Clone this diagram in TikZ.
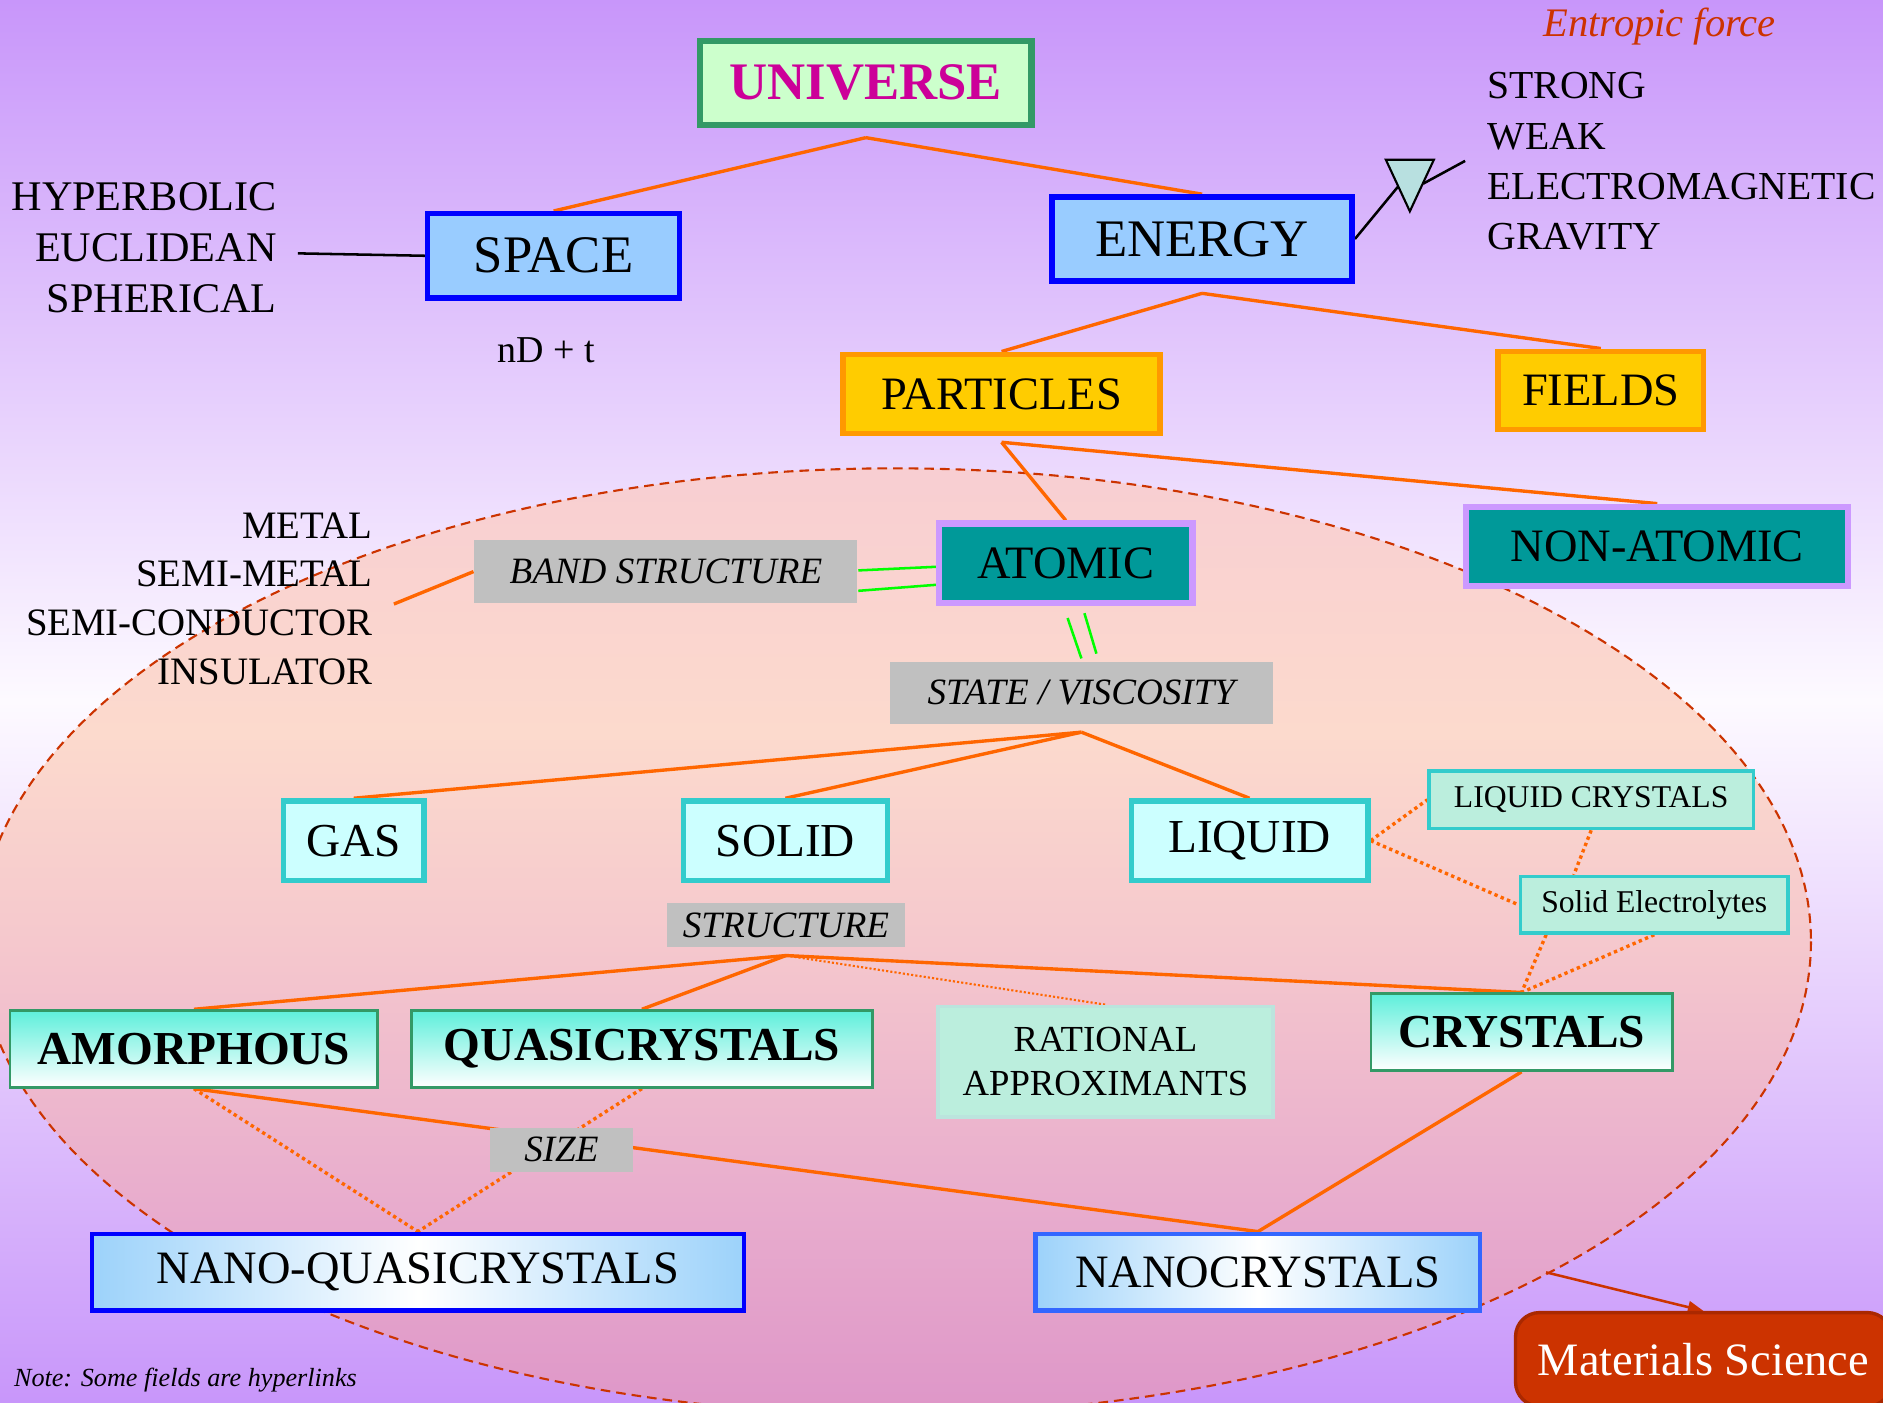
\documentclass[tikz,border=0pt]{standalone}
\usepackage{fontspec}
\setmainfont{Liberation Serif}
\usetikzlibrary{arrows.meta}

\definecolor{lilac}{RGB}{200,150,250}
\definecolor{paleback}{RGB}{253,250,255}
\definecolor{linkorange}{HTML}{FF6600}
\definecolor{rust}{HTML}{CC3300}
\definecolor{grassgreen}{HTML}{339966}
\definecolor{mint}{HTML}{BBEEDD}
\definecolor{sky}{HTML}{99CCFF}
\definecolor{turq}{RGB}{94,239,219}
\definecolor{pastelblue}{RGB}{156,210,250}

\pgfdeclareverticalshading{blob}{100bp}{color(0bp)=(rgb,255:red,222;green,150;blue,200);
  color(25bp)=(rgb,255:red,222;green,150;blue,200);
  color(36bp)=(rgb,255:red,232;green,172;blue,205);
  color(50bp)=(rgb,255:red,245;green,200;blue,205);
  color(61bp)=(rgb,255:red,252;green,218;blue,205);
  color(75bp)=(rgb,255:red,248;green,206;blue,210);
  color(100bp)=(rgb,255:red,248;green,206;blue,210)}

\pgfdeclarelayer{bg}
\pgfdeclarelayer{links}
\pgfsetlayers{bg,links,main}

\tikzset{
  topbox/.style={fill=green!20, draw=grassgreen, line width=1.5pt, inner sep=0pt,
    text={rgb,255:red,204;green,0;blue,153}, font=\bfseries\fontsize{12.5}{15}\selectfont},
  skybox/.style={fill=sky, draw=blue, line width=1.3pt, inner sep=0pt, font=\fontsize{12.5}{15}\selectfont},
  goldbox/.style={fill={rgb,255:red,255;green,204;blue,0}, draw={rgb,255:red,255;green,153;blue,0},
    line width=1.3pt, inner sep=0pt, font=\fontsize{11}{13}\selectfont},
  tealbox/.style={fill={rgb,255:red,0;green,153;blue,153}, draw={rgb,255:red,204;green,153;blue,255},
    line width=1.5pt, inner sep=0pt, font=\fontsize{11}{13}\selectfont},
  icebox/.style={fill={rgb,255:red,204;green,255;blue,255}, draw={rgb,255:red,51;green,204;blue,204},
    line width=1.3pt, inner sep=0pt, font=\fontsize{11.2}{13}\selectfont},
  mintbox/.style={fill=mint, draw={rgb,255:red,51;green,204;blue,204}, line width=0.8pt,
    inner sep=0pt, font=\fontsize{7.5}{9}\selectfont},
  greybox/.style={fill={rgb,255:red,192;green,192;blue,192}, inner sep=0pt, font=\itshape\fontsize{8.8}{10}\selectfont},
  phasebox/.style={top color=turq, bottom color=white, draw=grassgreen, line width=0.6pt,
    inner sep=0pt, font=\bfseries\fontsize{11.2}{13}\selectfont},
  nanobox/.style={left color=pastelblue, right color=pastelblue, middle color=white,
    line width=1.1pt, inner sep=0pt, font=\fontsize{11}{13}\selectfont},
  link/.style={draw=linkorange, line width=0.8pt},
  dotlink/.style={draw=linkorange, line width=0.8pt, dash pattern=on 0.8pt off 0.8pt},
  greenlink/.style={draw=green, line width=0.6pt},
}

\begin{document}
\begin{tikzpicture}[x=1mm,y=-1mm]

\useasboundingbox (0,0) rectangle (156.8,116.8);
\clip (0,0) rectangle (156.8,116.8);

%% backdrop
\begin{pgfonlayer}{bg}
\shade[top color=lilac, bottom color=lilac, middle color=paleback] (0,0) rectangle (156.8,116.8);
\shade[shading=blob] (74.5,78.4) ellipse [x radius=76.3, y radius=39.4];
\draw[rust, line width=0.5pt, dash pattern=on 0.8mm off 0.5mm] (74.5,78.4) ellipse [x radius=76.3, y radius=39.4];
\end{pgfonlayer}

%% boxes
\node[topbox, minimum width=27.6mm, minimum height=7mm] (universe) at (72.1,6.9) {UNIVERSE};
\node[skybox, minimum width=21mm, minimum height=7mm] (space) at (46.1,21.3) {SPACE};
\node[skybox, minimum width=25mm, minimum height=7mm] (energy) at (100.1,19.9) {ENERGY};
\node[goldbox, minimum width=26.4mm, minimum height=6.6mm] (particles) at (83.4,32.8) {PARTICLES};
\node[goldbox, minimum width=17.1mm, minimum height=6.5mm] (fields) at (133.3,32.5) {FIELDS};
\node[tealbox, minimum width=21.1mm, minimum height=6.6mm] (atomic) at (88.75,46.9) {ATOMIC};
\node[tealbox, minimum width=31.8mm, minimum height=6.6mm] (nonatomic) at (138,45.5) {NON-ATOMIC};
\node[greybox, minimum width=31.9mm, minimum height=5.2mm] (band) at (55.45,47.6) {BAND STRUCTURE};
\node[greybox, minimum width=31.9mm, minimum height=5.2mm] (state) at (90.05,57.7) {STATE / VISCOSITY};
\node[icebox, minimum width=11.7mm, minimum height=6.6mm] (gas) at (29.45,70) {GAS};
\node[icebox, minimum width=17mm, minimum height=6.6mm] (solid) at (65.4,70) {SOLID};
\node[icebox, minimum width=19.7mm, minimum height=6.6mm] (liquid) at (104.05,70) {LIQUID};
\node[mintbox, minimum width=27mm, minimum height=4.8mm] (lcryst) at (132.5,66.6) {LIQUID CRYSTALS};
\node[mintbox, minimum width=22.3mm, minimum height=4.7mm] (selectro) at (137.75,75.35) {Solid Electrolytes};
\node[greybox, minimum width=19.9mm, minimum height=3.7mm] (structure) at (65.45,77.05) {STRUCTURE};
\node[phasebox, minimum width=30.6mm, minimum height=6.4mm] (amorph) at (16.15,87.35) {AMORPHOUS};
\node[phasebox, minimum width=38.4mm, minimum height=6.4mm] (quasi) at (53.45,87.35) {QUASICRYSTALS};
\node[mintbox, draw={rgb,255:red,187;green,228;blue,221}, align=center, font=\fontsize{8.7}{10.5}\selectfont,
  minimum width=27.9mm, minimum height=9.2mm] (rational) at (92.05,88.4) {RATIONAL\\APPROXIMANTS};
\node[phasebox, minimum width=25.1mm, minimum height=6.4mm] (cryst) at (126.7,85.95) {CRYSTALS};
\node[greybox, minimum width=11.9mm, minimum height=3.7mm] (size) at (46.75,95.75) {SIZE};
\node[nanobox, draw=blue, minimum width=54.3mm, minimum height=6.4mm] (nanoq) at (34.8,105.95) {NANO-QUASICRYSTALS};
\node[nanobox, draw={rgb,255:red,51;green,102;blue,255}, minimum width=37mm, minimum height=6.4mm] (nanoc) at (104.75,105.95) {NANOCRYSTALS};
\node[fill=rust, draw={rgb,255:red,170;green,40;blue,0}, rounded corners=2mm, line width=0.8pt, inner sep=0pt,
  text=white, font=\fontsize{11}{13}\selectfont, minimum width=31.3mm, minimum height=7.8mm] (matsci) at (141.85,113.2) {Materials Science};

%% free texts
\node[anchor=east, align=right, inner sep=0pt, font=\fontsize{10}{12.1}\selectfont] (geometry) at (23.1,20.6) {HYPERBOLIC\\EUCLIDEAN\\SPHERICAL};
\node[inner sep=0pt, font=\fontsize{9}{11}\selectfont] (dims) at (45.5,29.2) {nD + t};
\node[anchor=west, align=left, inner sep=0pt, font=\fontsize{9.4}{11.9}\selectfont] (forces) at (123.8,13.45) {STRONG\\WEAK\\ELECTROMAGNETIC\\GRAVITY};
\node[inner sep=0pt, text=rust, font=\itshape\fontsize{9.6}{11}\selectfont] (entropic) at (138.2,2.2) {Entropic force};
\node[anchor=east, align=right, inner sep=0pt, font=\fontsize{9.2}{11.5}\selectfont] (conduct) at (31.1,49.85) {METAL\\SEMI-METAL\\SEMI-CONDUCTOR\\INSULATOR};
\node[anchor=west, inner sep=0pt, font=\itshape\fontsize{6.2}{8}\selectfont] (note) at (1.1,114.9) {Note: Some fields are hyperlinks};

%% the little triangle next to ENERGY
\draw[fill={rgb,255:red,184;green,224;blue,224}, line width=0.5pt] (115.4,13.3) -- (119.4,13.3) -- (117.4,17.6) -- cycle;
\coordinate (tri-in) at (116.45,15.5);
\coordinate (tri-out) at (118.5,15.3);
\coordinate (tri-end) at (122,13.4);

%% connectors
\begin{pgfonlayer}{links}
\draw[link] ([yshift=-0.8mm]universe.south) -- (space.north);
\draw[link] ([yshift=-0.8mm]universe.south) -- (energy.north);
\draw[link] ([yshift=-0.8mm]energy.south) -- (particles.north);
\draw[link] ([yshift=-0.8mm]energy.south) -- (fields.north);
\draw[link] ([yshift=-0.5mm]particles.south) -- (atomic.north);
\draw[link] ([yshift=-0.5mm]particles.south) -- (nonatomic.north);
\draw[line width=0.6pt] (space.west) -- ([xshift=1.7mm,yshift=-0.5mm]geometry.east);
\draw[line width=0.6pt] (energy.east) -- (tri-in);
\draw[line width=0.6pt] (tri-out) -- (tri-end);
\draw[link] (band.west) -- ([xshift=1.7mm,yshift=-0.45mm]conduct.east);
\draw[greenlink] ([yshift=0.1mm]band.east) -- ([yshift=-0.3mm]atomic.west);
\draw[greenlink] ([yshift=-1.6mm]band.east) -- ([yshift=-1.8mm]atomic.west);
\draw[greenlink] ([xshift=0.15mm,yshift=-1mm]atomic.south) -- ([yshift=0.2mm]state.north);
\draw[greenlink] ([xshift=1.55mm,yshift=-0.6mm]atomic.south) -- ([xshift=1.25mm,yshift=0.6mm]state.north);
\draw[link] ([yshift=-0.6mm]state.south) -- (gas.north);
\draw[link] ([yshift=-0.6mm]state.south) -- (solid.north);
\draw[link] ([yshift=-0.6mm]state.south) -- (liquid.north);
\draw[dotlink] (liquid.east) -- (lcryst.west);
\draw[dotlink] (liquid.east) -- (selectro.west);
\draw[dotlink] (lcryst.south) -- ([xshift=-6.7mm]selectro.north);
\draw[dotlink] ([xshift=-9mm]selectro.south) -- (cryst.north);
\draw[dotlink] (selectro.south) -- (cryst.north);
\draw[link] ([yshift=-0.6mm]structure.south) -- (amorph.north);
\draw[link] ([yshift=-0.6mm]structure.south) -- (quasi.north);
\draw[draw=linkorange, line width=0.5pt, dash pattern=on 0.5pt off 0.5pt] ([yshift=-0.6mm]structure.south) -- (rational.north);
\draw[link] ([yshift=-0.6mm]structure.south) -- (cryst.north);
\draw[link] (amorph.south) -- (nanoc.north);
\draw[dotlink] (amorph.south) -- (nanoq.north);
\draw[dotlink] (quasi.south) -- (nanoq.north);
\draw[link] (cryst.south) -- (nanoc.north);
\draw[rust, line width=0.6pt, -{Triangle[length=1.3mm, width=1mm]}] ([xshift=5.3mm]nanoc.east) -- (matsci.north);
\end{pgfonlayer}

\end{tikzpicture}
\end{document}
